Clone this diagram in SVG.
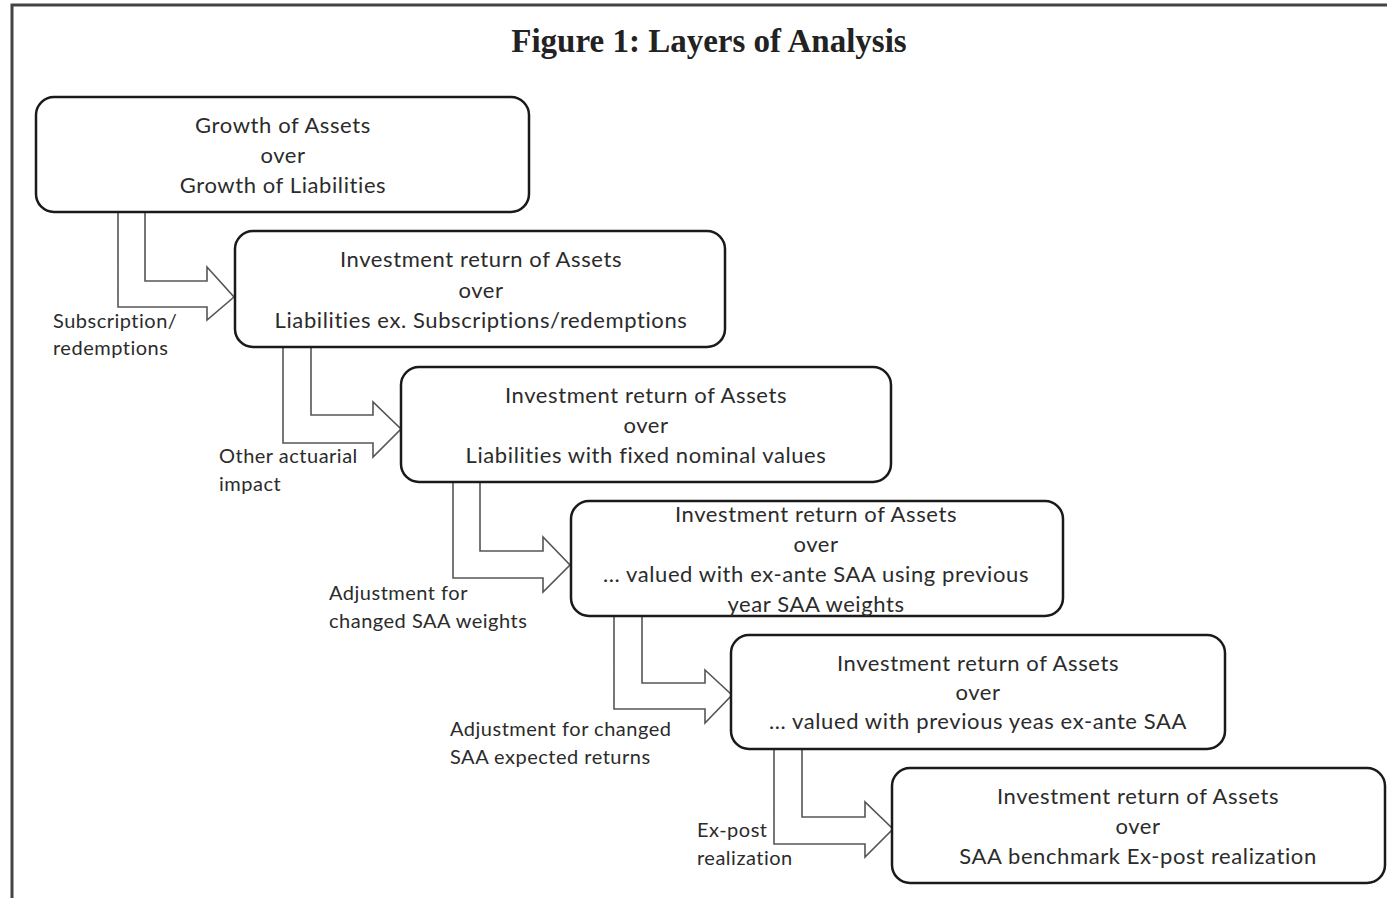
<svg xmlns="http://www.w3.org/2000/svg" width="1387" height="898" viewBox="0 0 1387 898">
<style>
.box{fill:#fff;stroke:#1a1a1a;stroke-width:2.5}
.t{font-family:Lato,"Open Sans","Liberation Sans",sans-serif;font-size:22px;letter-spacing:0.6px;fill:#2b2b2b;text-anchor:middle}
.l{font-family:Lato,"Open Sans","Liberation Sans",sans-serif;font-size:20px;letter-spacing:0.5px;fill:#2b2b2b}
.arr{fill:#fff;stroke:#555;stroke-width:1.6;stroke-linejoin:miter}
.title{font-family:"Liberation Serif","Times New Roman",serif;font-weight:bold;font-size:33px;fill:#222;text-anchor:middle}
</style>
<rect width="1387" height="898" fill="#fff"/>
<path d="M12,898 V5 H1387" fill="none" stroke="#444" stroke-width="3"/>
<text class="title" x="709" y="52">Figure 1: Layers of Analysis</text>
<g id="connectors">
<path class="arr" d="M118,212 V307 H207 V320 L234,297 L207,267 V281 H145 V212"/>
<path class="arr" d="M283,347 V443 H373 V457 L401,429 L373,402 V415 H311 V347"/>
<path class="arr" d="M453,482 V578 H543 V592 L570,565 L543,537 V551 H480 V482"/>
<path class="arr" d="M614,616 V709 H705 V723 L732,695 L705,670 V683 H642 V616"/>
<path class="arr" d="M774,749 V844 H865 V857 L893,829 L865,802 V817 H802 V749"/>
</g>
<g id="label-1"><text class="l" x="53" y="328">Subscription/</text><text class="l" x="53" y="355">redemptions</text></g>
<g id="label-2"><text class="l" x="219" y="463">Other actuarial</text><text class="l" x="219" y="491">impact</text></g>
<g id="label-3"><text class="l" x="329" y="600">Adjustment for</text><text class="l" x="329" y="628">changed SAA weights</text></g>
<g id="label-4"><text class="l" x="450" y="736">Adjustment for changed</text><text class="l" x="450" y="764">SAA expected returns</text></g>
<g id="label-5"><text class="l" x="697" y="837">Ex-post</text><text class="l" x="697" y="865">realization</text></g>
<g id="node-1">
<rect class="box" x="36" y="97" width="493" height="115" rx="18"/>
<text class="t" x="283" y="133">Growth of Assets</text>
<text class="t" x="283" y="163">over</text>
<text class="t" x="283" y="193">Growth of Liabilities</text>
</g>
<g id="node-2">
<rect class="box" x="235" y="231" width="490" height="116" rx="18"/>
<text class="t" x="481" y="267">Investment return of Assets</text>
<text class="t" x="481" y="298">over</text>
<text class="t" x="481" y="328">Liabilities ex. Subscriptions/redemptions</text>
</g>
<g id="node-3">
<rect class="box" x="401" y="367" width="490" height="115" rx="18"/>
<text class="t" x="646" y="403">Investment return of Assets</text>
<text class="t" x="646" y="433">over</text>
<text class="t" x="646" y="463">Liabilities with fixed nominal values</text>
</g>
<g id="node-4">
<rect class="box" x="571" y="501" width="492" height="115" rx="18"/>
<text class="t" x="816" y="522">Investment return of Assets</text>
<text class="t" x="816" y="552">over</text>
<text class="t" x="816" y="582">... valued with ex-ante SAA using previous</text>
<text class="t" x="816" y="612">year SAA weights</text>
</g>
<g id="node-5">
<rect class="box" x="731" y="635" width="494" height="114" rx="18"/>
<text class="t" x="978" y="671">Investment return of Assets</text>
<text class="t" x="978" y="700">over</text>
<text class="t" x="978" y="729">... valued with previous yeas ex-ante SAA</text>
</g>
<g id="node-6">
<rect class="box" x="892" y="768" width="493" height="115" rx="18"/>
<text class="t" x="1138" y="804">Investment return of Assets</text>
<text class="t" x="1138" y="834">over</text>
<text class="t" x="1138" y="864">SAA benchmark Ex-post realization</text>
</g>
</svg>
